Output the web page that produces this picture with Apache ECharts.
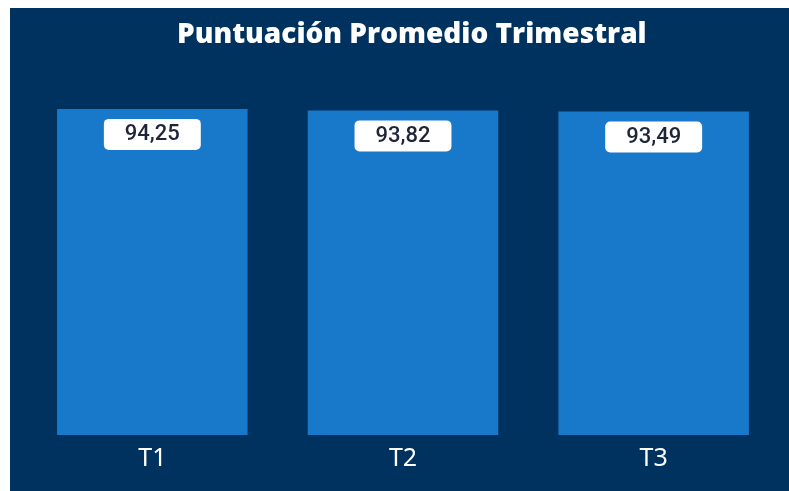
<!DOCTYPE html>
<html>
<head>
<meta charset="utf-8">
<script src="https://cdn.jsdelivr.net/npm/echarts@6/dist/echarts.min.js"></script>
<style>
  html, body { margin: 0; padding: 0; background: #ffffff; }
  #chart { position: absolute; left: 10px; top: 8px; width: 779px; height: 483px; }
</style>
</head>
<body>
<div id="chart"></div>
<script>
var trimestres = ['T1', 'T2', 'T3'];
var puntuaciones = [94.25, 93.82, 93.49];

var chart = echarts.init(document.getElementById('chart'));

chart.setOption({
  backgroundColor: '#00325f',
  animation: false,
  title: {
    text: 'Puntuación Promedio Trimestral',
    left: 167,
    top: 13,
    padding: 0,
    textStyle: { color: '#ffffff', fontFamily: 'Open Sans', fontWeight: 800, fontSize: 28 }
  },
  grid: { left: 17, right: 10, top: 81, bottom: 56 },
  xAxis: {
    type: 'category',
    data: trimestres,
    axisLine: { show: false },
    axisTick: { show: false },
    axisLabel: { color: '#ffffff', fontFamily: 'Noto Sans', fontSize: 25, margin: 11 }
  },
  yAxis: {
    type: 'value',
    min: 0,
    max: 100,
    show: false
  },
  series: [{
    type: 'bar',
    data: puntuaciones,
    barCategoryGap: '24%',
    itemStyle: { color: '#1878c9' },
    label: {
      show: true,
      position: 'insideTop',
      distance: 10,
      formatter: function (p) { return p.value.toFixed(2).replace('.', ','); },
      color: '#1f2538',
      fontFamily: 'Roboto',
      fontWeight: 500,
      fontSize: 22,
      backgroundColor: '#ffffff',
      borderRadius: 5,
      padding: [5, 21, 4, 21]
    }
  }]
});
</script>
</body>
</html>
